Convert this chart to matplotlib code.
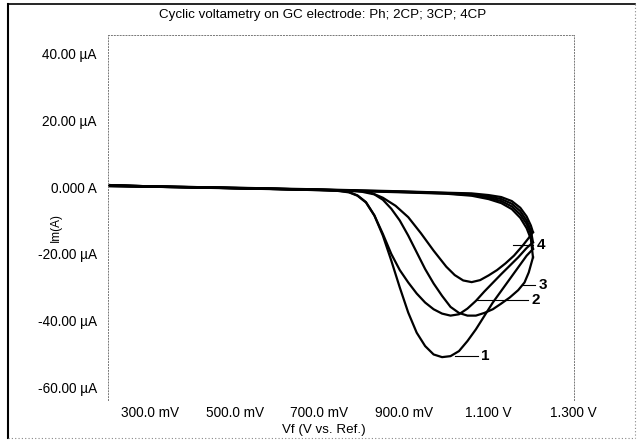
import matplotlib
matplotlib.use("Agg")
import matplotlib.pyplot as plt
from matplotlib.lines import Line2D

plt.rcParams['font.family'] = ['Liberation Sans', 'DejaVu Sans']

title = "Cyclic voltametry on GC electrode: Ph; 2CP; 3CP; 4CP"
xlabel = "Vf (V vs. Ref.)"
ylabel = "Im(A)"

x_ticks = [300, 500, 700, 900, 1100, 1300]
x_tick_labels = ["300.0 mV", "500.0 mV", "700.0 mV", "900.0 mV", "1.100 V", "1.300 V"]
y_ticks = [40, 20, 0, -20, -40, -60]
y_tick_labels = ["40.00 \u00b5A", "20.00 \u00b5A", "0.000 A", "-20.00 \u00b5A", "-40.00 \u00b5A", "-60.00 \u00b5A"]

# forward scans (mV, uA)
v1_fwd = [200, 400, 600, 740, 770, 790, 810, 830, 850, 870, 890, 910, 930, 950, 970, 990, 1010, 1030, 1050, 1070, 1090, 1110, 1130, 1150, 1170, 1190, 1205]
i1_fwd = [0.4, 0.0, -0.5, -1.0, -1.5, -2.5, -4.5, -8.5, -14.5, -22, -30, -37.5, -43.5, -47.5, -50, -50.8, -50.5, -49, -46, -42.5, -38.5, -34.5, -31, -27.5, -24, -20.5, -18.5]

v2_fwd = [200, 400, 600, 740, 770, 790, 810, 830, 850, 870, 890, 910, 930, 950, 970, 990, 1010, 1030, 1050, 1070, 1090, 1110, 1130, 1150, 1170, 1190, 1205]
i2_fwd = [0.3, -0.1, -0.6, -1.1, -1.6, -2.6, -4.6, -8.5, -14, -20, -24.8, -28.5, -31.8, -34.5, -36.5, -37.8, -38.4, -38, -36.3, -34, -31.2, -28.6, -26, -23.5, -21, -18.2, -16.5]

v3_fwd = [200, 400, 600, 760, 800, 830, 850, 870, 890, 910, 930, 950, 970, 990, 1010, 1030, 1050, 1070, 1090, 1110, 1130, 1150, 1170, 1185, 1195, 1205]
i3_fwd = [0.3, -0.1, -0.6, -1.0, -1.4, -2.2, -3.8, -6.5, -10, -14.5, -19.5, -24.5, -28.8, -32.5, -35.8, -37.6, -38.4, -38.4, -37.6, -36.5, -34.8, -33, -30.8, -28.5, -25.5, -21]

v4_fwd = [200, 400, 600, 780, 820, 850, 880, 910, 940, 970, 1000, 1020, 1040, 1060, 1080, 1100, 1120, 1140, 1160, 1180, 1195, 1205]
i4_fwd = [0.3, -0.1, -0.6, -1.0, -1.6, -3.2, -5.6, -9.0, -13.8, -19.0, -23.8, -26.3, -27.9, -28.4, -27.8, -26.4, -24.8, -22.8, -20.5, -17.6, -15.2, -13.5]

# reverse scans
v_rev = [1205, 1200, 1190, 1175, 1155, 1130, 1100, 1060, 1000, 900, 700, 500, 300, 200]
i1_rev = [-18.5, -14.0, -11.0, -8.2, -5.8, -4.2, -3.2, -2.4, -1.9, -1.5, -0.8, -0.3, 0.2, 0.6]
i2_rev = [-16.5, -13.0, -10.0, -7.2, -5.0, -3.6, -2.8, -2.1, -1.8, -1.4, -0.8, -0.3, 0.2, 0.6]
i3_rev = [-21.0, -15.5, -12.3, -9.2, -6.6, -4.8, -3.6, -2.6, -2.0, -1.6, -0.9, -0.4, 0.1, 0.5]
i4_rev = [-13.5, -11.5, -8.8, -6.2, -4.2, -3.0, -2.4, -1.9, -1.7, -1.3, -0.7, -0.2, 0.2, 0.6]

# curve labels: (text, leader start v, leader end v, current, text v)
label_names = ["1", "2", "3", "4"]
label_v_start = [1021, 1073, 1179, 1158]
label_v_end = [1075, 1194, 1210, 1205]
label_i = [-50.5, -33.7, -29.3, -17.3]
label_text_v = [1092, 1212, 1228, 1224]

fig = plt.figure(figsize=(6.37, 4.43), dpi=100)
ax = fig.add_axes([108/637, 1-400/443, (574-108)/637, (400-35)/443])

lw = 1.6
for vf, iff, ir in [(v1_fwd, i1_fwd, i1_rev), (v2_fwd, i2_fwd, i2_rev),
                    (v3_fwd, i3_fwd, i3_rev), (v4_fwd, i4_fwd, i4_rev)]:
    ax.plot(vf, iff, color='black', lw=lw, solid_joinstyle='round')
    ax.plot(v_rev, ir, color='black', lw=lw, solid_joinstyle='round')

for name, vs, ve, ii, vt in zip(label_names, label_v_start, label_v_end, label_i, label_text_v):
    ax.plot([vs, ve], [ii, ii], color='black', lw=0.8)
    ax.text(vt, ii, name, fontsize=11, fontweight='bold', ha='center', va='center')

ax.set_xlim(200, 1302)
ax.set_ylim(-63.6, 45.4)
ax.set_xticks(x_ticks)
ax.set_xticklabels(x_tick_labels)
ax.set_yticks(y_ticks)
ax.set_yticklabels(y_tick_labels)
ax.tick_params(axis='both', length=0, labelsize=9.8)
ax.tick_params(axis='x', pad=4)
ax.tick_params(axis='y', pad=8)

for side in ['left', 'right', 'top']:
    ax.spines[side].set_linestyle((0, (1, 2)))
    ax.spines[side].set_linewidth(0.7)
    ax.spines[side].set_color('#777777')
ax.spines['bottom'].set_visible(False)

fig.text(323/637, 1-15/443, title, fontsize=9.6, ha='center', va='center')
fig.text(324/637, 1-430/443, xlabel, fontsize=9.6, ha='center', va='center')
fig.text(56/637, 1-228/443, ylabel, fontsize=8.5, ha='center', va='center', rotation=90)

# figure frame
fig.add_artist(Line2D([8/637, 8/637], [1-4/443, 1-438/443], color='black', lw=1.5, transform=fig.transFigure))
fig.add_artist(Line2D([8/637, 635/637], [1-4/443, 1-4/443], color='black', lw=1.2, transform=fig.transFigure))
fig.add_artist(Line2D([635/637, 635/637], [1-4/443, 1-438/443], color='#888888', lw=0.8, ls=(0, (1, 2)), transform=fig.transFigure))
fig.add_artist(Line2D([8/637, 635/637], [1-438/443, 1-438/443], color='#888888', lw=0.8, ls=(0, (1, 2)), transform=fig.transFigure))

fig.savefig("out.png", dpi=100)
